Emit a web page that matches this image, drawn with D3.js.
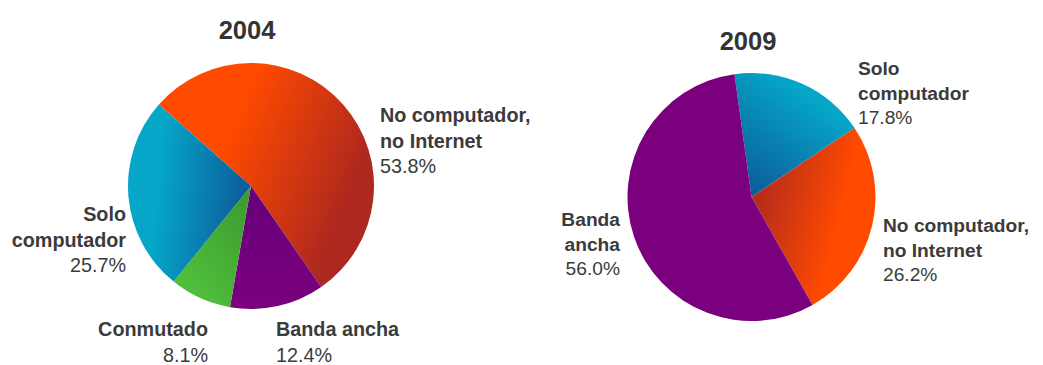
<!DOCTYPE html>
<html>
<head>
<meta charset="utf-8">
<script src="https://cdn.jsdelivr.net/npm/d3@7"></script>
<style>
  html, body { margin: 0; padding: 0; background: #fff; }
  svg { display: block; }
  text { font-family: "Liberation Sans", Arial, sans-serif; fill: #3b3b3b; }
</style>
</head>
<body>
<svg id="chart" width="1043" height="365"></svg>
<script>
// Hogares por tipo de acceso (porcentaje)
const categories2004 = ["No computador, no Internet", "Banda ancha", "Conmutado", "Solo computador"];
const values2004 = [53.8, 12.4, 8.1, 25.7];
const labelLines2004 = [["No computador,", "no Internet"], ["Banda ancha"], ["Conmutado"], ["Solo", "computador"]];

const categories2009 = ["Solo computador", "No computador, no Internet", "Banda ancha"];
const values2009 = [17.8, 26.2, 56.0];
const labelLines2009 = [["Solo", "computador"], ["No computador,", "no Internet"], ["Banda", "ancha"]];

const years = ["2004", "2009"];

// Slice fills: each category gets a two-stop linear gradient
const fills = {
  "No computador, no Internet": { base: "#ff4a00", dark: "#ad281e" },
  "Solo computador": { base: "#05a6c8", dark: "#0d5896" },
  "Conmutado": { base: "#4fbe3c", dark: "#3a982d" },
  "Banda ancha": { base: "#7b007e", dark: "#69007a" }
};

const svg = d3.select("#chart");
const defs = svg.append("defs");

// Layout of each pie and its labels (offsets from pie centre)
const pies = [
  {
    year: years[0], categories: categories2004, values: values2004, lines: labelLines2004,
    cx: 251, cy: 186, r: 123, start: -48.5, titleX: 247, titleY: 39, fontSize: 19.8, lineH: 25.5,
    grads: [[0.42, 0.1, 1, 0.35, "base", "dark"], [0.5, 0.1, 0.5, 1, "dark", "base"], [1, 0, 0.3, 0.9, "dark", "base"], [1, 0.5, 0.25, 0.4, "dark", "base"]],
    labels: [[129, -64, "start"], [25, 150, "start"], [-43, 150, "end"], [-125, 35, "end"]]
  },
  {
    year: years[1], categories: categories2009, values: values2009, lines: labelLines2009,
    cx: 751.5, cy: 197, r: 124, start: -7.9, titleX: 748, titleY: 50, fontSize: 19.2, lineH: 24.5,
    grads: [[0.1, 1, 0.65, 0.2, "dark", "base"], [0, 0.3, 0.7, 0.55, "dark", "base"], [0.5, 0.5, 0.5, 0.5, "base", "base"]],
    labels: [[106.5, -122, "start"], [131.5, 35, "start"], [-131.5, 29, "end"]]
  }
];

pies.forEach((p, pi) => {
  const g = svg.append("g").attr("transform", `translate(${p.cx},${p.cy})`);

  const pie = d3.pie().sort(null)
    .startAngle(p.start * Math.PI / 180)
    .endAngle((p.start + 360) * Math.PI / 180);
  const arc = d3.arc().innerRadius(0).outerRadius(p.r);
  const arcs = pie(p.values);

  arcs.forEach((d, i) => {
    const f = fills[p.categories[i]];
    const [x1, y1, x2, y2, c1, c2] = p.grads[i];
    const id = `grad-${pi}-${i}`;
    const lg = defs.append("linearGradient").attr("id", id)
      .attr("x1", x1).attr("y1", y1).attr("x2", x2).attr("y2", y2);
    lg.append("stop").attr("offset", "0%").attr("stop-color", f[c1]);
    lg.append("stop").attr("offset", "100%").attr("stop-color", f[c2]);
  });

  g.selectAll("path.slice")
    .data(arcs)
    .join("path")
    .attr("class", "slice")
    .attr("d", arc)
    .attr("fill", (d, i) => `url(#grad-${pi}-${i})`);

  svg.append("text")
    .attr("x", p.titleX).attr("y", p.titleY)
    .attr("text-anchor", "middle")
    .attr("font-size", 25.5).attr("font-weight", "bold")
    .style("fill", "#333")
    .text(p.year);

  arcs.forEach((d, i) => {
    const [dx, dy, anchor] = p.labels[i];
    const t = g.append("text")
      .attr("text-anchor", anchor)
      .attr("font-size", p.fontSize);
    const lines = p.lines[i];
    lines.forEach((ln, k) => {
      t.append("tspan").attr("x", dx).attr("y", dy + k * p.lineH)
        .attr("font-weight", "bold").text(ln);
    });
    t.append("tspan").attr("x", dx).attr("y", dy + lines.length * p.lineH)
      .text(d.data.toFixed(1) + "%");
  });
});
</script>
</body>
</html>
